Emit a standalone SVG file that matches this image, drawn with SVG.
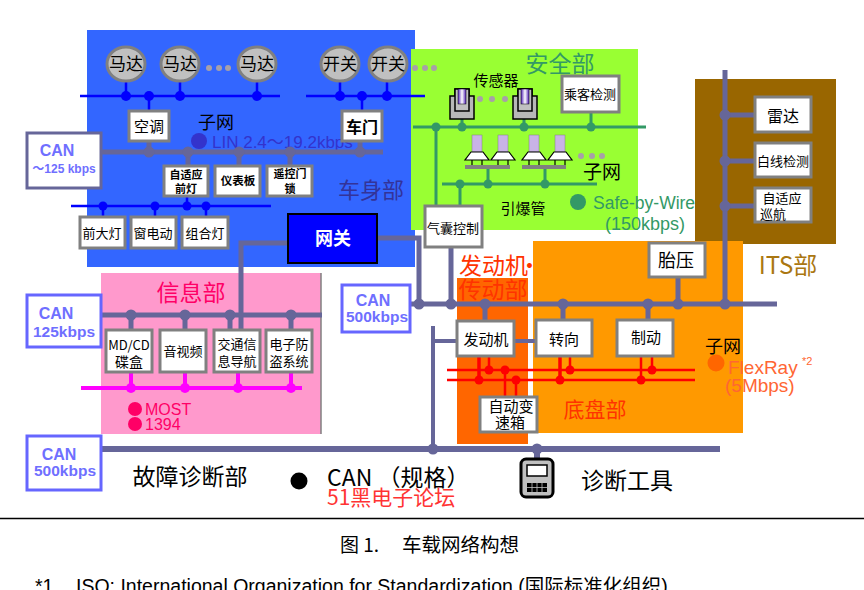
<svg xmlns="http://www.w3.org/2000/svg" width="864" height="590" viewBox="0 0 864 590">
<style>
text{font-family:"Noto Sans CJK SC","Liberation Sans",sans-serif;fill:#000}
.m{text-anchor:middle}
.lat{font-family:"Liberation Sans","Noto Sans CJK SC",sans-serif}
.box{fill:#fff;stroke:#808080;stroke-width:3}
.oval{fill:#c0c0c0;stroke:#808080;stroke-width:3}
.can{fill:#fff;stroke:#6666ff;stroke-width:3}
.cant{font-family:"Liberation Sans","Noto Sans CJK SC",sans-serif;font-weight:bold;fill:#6f6fff;text-anchor:middle}
.bus{stroke:#666699;stroke-width:5;fill:none}
.bl{stroke:#0000ff;stroke-width:2.5;fill:none}
.gr{stroke:#339966;stroke-width:3;fill:none}
.rd{stroke:#ff0000;stroke-width:2.5;fill:none}
.mg{stroke:#ff00ff;stroke-width:4;fill:none}
.d3{fill:#a8a0a8}
.dbus{fill:#666699}.dbl{fill:#0000ff}.dgr{fill:#339966}.drd{fill:#ff0000}.dmg{fill:#ff00ff}
</style>
<defs>
<linearGradient id="pur" x1="0" x2="1" y1="0" y2="0"><stop offset="0" stop-color="#5522bb"/><stop offset=".5" stop-color="#ffffff"/><stop offset="1" stop-color="#5522bb"/></linearGradient>
<g id="sensor"><path d="M-12 0V-8H-7V-15H7V-8H12V15H-12Z" fill="#b8b8b8" stroke="#000" stroke-width="1.500" transform="translate(0,8)"/><rect x="-7" y="-7" width="14" height="22" fill="#c0c0c0" stroke="#000" stroke-width="1.500"/><rect x="-4" y="-7" width="8" height="15" fill="url(#pur)" stroke="#000" stroke-width=".5"/></g>
<g id="squib"><rect x="-5" y="0" width="10" height="17" fill="#c9b3e6" stroke="#808080" stroke-width=".5"/><path d="M-6 17H6L12 25H-12Z" fill="#fff" stroke="#000" stroke-width="1.200"/><path d="M-5 25V30M5 25V30" stroke="#000" stroke-width="1.200"/></g>
</defs>
<rect width="864" height="590" fill="#fff"/>
<g id="regions">
<rect x="87" y="30" width="328" height="237" fill="#3366ff"/>
<rect x="411" y="49" width="227" height="181" fill="#99ff33"/>
<rect x="695" y="79" width="141" height="165" fill="#996600"/>
<rect x="533" y="241" width="210" height="192" fill="#ff9900"/>
<rect x="457" y="278" width="71" height="166" fill="#ff6600"/>
<rect x="101" y="273" width="220" height="161" fill="#ff99cc"/>
<path d="M321 273V434" stroke="#808080" stroke-width="1.500"/>
</g>
<g id="region-labels">
<circle cx="199" cy="141" r="8" fill="#3333cc"/>
<text class="lat" x="212" y="148" font-size="17" style="fill:#3333cc">LIN 2.4～19.2kbps</text>
<text x="216" y="129" class="m" font-size="18">子网</text>
<text x="371" y="198" class="m" font-size="22" style="fill:#333399">车身部</text>
<text x="560" y="72" class="m" font-size="23" style="fill:#339966">安全部</text>
<text x="496" y="86" class="m" font-size="15">传感器</text>
<text x="602" y="179" class="m" font-size="19">子网</text>
<text x="523" y="214" class="m" font-size="15">引爆管</text>
<circle cx="578" cy="202" r="8" fill="#339966"/>
<text class="lat" x="593" y="209" font-size="17.500" style="fill:#339966">Safe-by-Wire</text>
<text class="lat" x="605" y="230" font-size="18" style="fill:#339966">(150kbps)</text>
<text x="459" y="274" font-size="23" style="fill:#ff3300">发动机<tspan dx="-10">·</tspan></text>
<text x="493" y="298" class="m" font-size="23" style="fill:#ff3300">传动部</text>
<text x="595" y="417" class="m" font-size="21" style="fill:#ff3300">底盘部</text>
<text x="723" y="353" class="m" font-size="18">子网</text>
<circle cx="716" cy="363" r="8.500" fill="#ff6600"/>
<text class="lat" x="728" y="374" font-size="19" style="fill:#ff6633">FlexRay</text>
<text class="lat" x="802" y="365" font-size="11" style="fill:#ff6633">*2</text>
<text class="lat" x="725" y="392" font-size="19" style="fill:#ff6633">(5Mbps)</text>
<text x="788" y="274" class="m" font-size="24" style="fill:#aa7711">ITS部</text>
<text x="191" y="301" class="m" font-size="23" style="fill:#ff0066">信息部</text>
<circle cx="135" cy="409" r="7" fill="#ff0066"/>
<circle cx="135" cy="424" r="7" fill="#ff0066"/>
<text class="lat" x="145" y="415" font-size="16" style="fill:#ff0066">MOST</text>
<text class="lat" x="145" y="430" font-size="16" style="fill:#ff0066">1394</text>
<text x="190" y="485" class="m" font-size="23">故障诊断部</text>
<circle cx="299" cy="481" r="8.500" fill="#000"/>
<text x="327" y="486" font-size="23">CAN （规格）</text>
<text x="327" y="505" font-size="21" style="fill:#ff3333">51黑电子论坛</text>
<text x="627" y="489" class="m" font-size="23">诊断工具</text>
</g>
<g id="connectors">
<path class="bl" d="M80 96H280M306 96H425M71 206H271M126 80V96M149 96V111M180 80V96M257 80V96M340 80V96M362 96V111M387 80V96M103 206V217M155 206V217M187 196V206M206 206V217"/>
<path class="bus" d="M101 152H383M149 141V152M188 152V166M239 152V166M290 152V166M360 141V152"/>
<path class="bus" d="M288 243H241V330M377 238H419V304"/>
<path class="bus" d="M101 315H322M131 315V330M185 315V330M230 315V330M291 315V330"/>
<path class="bus" style="stroke-width:6" d="M101 449H720M537 449V459"/>
<path class="bus" d="M410 304H777M451 247V304M485 304V321M563 304V320M648 304V320M678 277V304M725 70V304M725 115H755M725 161H755M725 206H755"/>
<path class="bus" style="stroke-width:4" d="M433 326V449M433 341H457M514 341H536"/>
<path class="gr" d="M413 127H646M442 184H597M436 127V206M462 111V127M524 111V127M591 112V127M460 184V206M488 169V184M545 169V184"/>
<path class="rd" d="M447 370H695M447 380H695M505 370V397M516 380V397M489 356V370M570 356V370M652 356V370"/>
<path class="rd" style="stroke-width:3.500" d="M479 356V380M560 356V380"/>
<path class="rd" d="M641 356V380"/>
<path class="mg" d="M81 388H302M131 372V388M185 372V388M238 372V388M291 372V388"/>
<g class="dbl"><circle cx="126" cy="96" r="5"/><circle cx="149" cy="96" r="5"/><circle cx="180" cy="96" r="5"/><circle cx="257" cy="96" r="5"/><circle cx="340" cy="96" r="5"/><circle cx="362" cy="96" r="5"/><circle cx="387" cy="96" r="5"/><circle cx="103" cy="206" r="4.500"/><circle cx="155" cy="206" r="4.500"/><circle cx="187" cy="206" r="4.500"/><circle cx="206" cy="206" r="4.500"/></g>
<g class="dbus"><circle cx="149" cy="152" r="5.500"/><circle cx="188" cy="152" r="5.500"/><circle cx="239" cy="152" r="5.500"/><circle cx="290" cy="152" r="5.500"/><circle cx="360" cy="152" r="5.500"/><circle cx="131" cy="315" r="5.500"/><circle cx="185" cy="315" r="5.500"/><circle cx="230" cy="315" r="5.500"/><circle cx="291" cy="315" r="5.500"/><circle cx="419" cy="304" r="5.500"/><circle cx="451" cy="304" r="5.500"/><circle cx="485" cy="304" r="5.500"/><circle cx="563" cy="304" r="5.500"/><circle cx="648" cy="304" r="5.500"/><circle cx="678" cy="304" r="5.500"/><circle cx="725" cy="304" r="5.500"/><circle cx="725" cy="115" r="5.500"/><circle cx="725" cy="161" r="5.500"/><circle cx="725" cy="206" r="5.500"/><circle cx="433" cy="449" r="5.500"/><circle cx="537" cy="449" r="5.500"/></g>
<g class="dgr"><circle cx="436" cy="127" r="4.500"/><circle cx="462" cy="127" r="4.500"/><circle cx="524" cy="127" r="4.500"/><circle cx="591" cy="127" r="4.500"/><circle cx="460" cy="184" r="4.500"/><circle cx="488" cy="184" r="4.500"/><circle cx="545" cy="184" r="4.500"/></g>
<g class="drd"><circle cx="489" cy="370" r="4.500"/><circle cx="505" cy="370" r="4.500"/><circle cx="570" cy="370" r="4.500"/><circle cx="652" cy="370" r="4.500"/><circle cx="479" cy="380" r="4.500"/><circle cx="516" cy="380" r="4.500"/><circle cx="560" cy="380" r="4.500"/><circle cx="641" cy="380" r="4.500"/></g>
<g class="dmg"><circle cx="131" cy="388" r="5"/><circle cx="185" cy="388" r="5"/><circle cx="238" cy="388" r="5"/><circle cx="291" cy="388" r="5"/></g>
</g>
<g id="motor-1"><ellipse class="oval" cx="126" cy="64" rx="19" ry="17"/><text x="126" y="70" class="m" font-size="17">马达</text></g>
<g id="motor-2"><ellipse class="oval" cx="180" cy="64" rx="19" ry="17"/><text x="180" y="70" class="m" font-size="17">马达</text></g>
<g id="motor-3"><ellipse class="oval" cx="257" cy="64" rx="19" ry="17"/><text x="257" y="70" class="m" font-size="17">马达</text></g>
<g id="motor-dots" class="d3"><circle cx="209" cy="68" r="3"/><circle cx="219" cy="68" r="3"/><circle cx="228" cy="68" r="3"/></g>
<g id="switch-1"><ellipse class="oval" cx="340" cy="64" rx="19" ry="17"/><text x="340" y="70" class="m" font-size="17">开关</text></g>
<g id="switch-2"><ellipse class="oval" cx="388" cy="64" rx="19" ry="17"/><text x="388" y="70" class="m" font-size="17">开关</text></g>
<g id="switch-dots" class="d3"><circle cx="415" cy="68" r="3"/><circle cx="425" cy="68" r="3"/><circle cx="434" cy="68" r="3"/></g>
<g id="aircon"><rect class="box" x="129" y="111" width="40" height="30"/><text x="149" y="132" class="m" font-size="15">空调</text></g>
<g id="door"><rect class="box" x="342" y="111" width="40" height="30"/><text x="362" y="133" class="m" font-size="16" font-weight="bold">车门</text></g>
<g id="can-body"><rect class="can" style="stroke:#666699" x="27" y="133" width="74" height="55"/><text class="cant" x="57" y="156" font-size="16">CAN</text><text class="cant" x="64" y="173" font-size="12">～125 kbps</text></g>
<g id="headlamp-adaptive"><rect class="box" x="164" y="166" width="44" height="30"/><text x="186" y="179" class="m" font-size="11" font-weight="bold">自适应</text><text x="186" y="193" class="m" font-size="11" font-weight="bold">前灯</text></g>
<g id="dashboard"><rect class="box" x="215" y="166" width="45" height="30"/><text x="238" y="185" class="m" font-size="11.500" font-weight="bold">仪表板</text></g>
<g id="remote-lock"><rect class="box" x="267" y="166" width="45" height="30"/><text x="290" y="178" class="m" font-size="11" font-weight="bold">遥控门</text><text x="290" y="193" class="m" font-size="11" font-weight="bold">锁</text></g>
<g id="headlight"><rect class="box" x="80" y="217" width="45" height="31"/><text x="102" y="238" class="m" font-size="13">前大灯</text></g>
<g id="window"><rect class="box" x="131" y="217" width="45" height="31"/><text x="153" y="238" class="m" font-size="13">窗电动</text></g>
<g id="combo-light"><rect class="box" x="182" y="217" width="46" height="31"/><text x="205" y="238" class="m" font-size="13">组合灯</text></g>
<g id="gateway"><rect x="288" y="214" width="89" height="49" fill="#0000ff" stroke="#000" stroke-width="2"/><text x="333" y="245" class="m" font-size="18" font-weight="bold" style="fill:#fff">网关</text></g>
<g id="can-125"><rect class="can" x="27" y="295" width="74" height="52"/><text class="cant" x="56" y="319" font-size="16">CAN</text><text class="cant" x="64" y="337" font-size="15.500">125kbps</text></g>
<g id="mdcd"><rect class="box" x="106" y="330" width="46" height="42"/><text x="129" y="350" class="m" font-size="13">MD/CD</text><text x="129" y="367" class="m" font-size="14">碟盒</text></g>
<g id="av"><rect class="box" x="160" y="330" width="46" height="42"/><text x="183" y="356" class="m" font-size="13">音视频</text></g>
<g id="nav"><rect class="box" x="214" y="330" width="46" height="42"/><text x="237" y="349" class="m" font-size="13">交通信</text><text x="237" y="366" class="m" font-size="13">息导航</text></g>
<g id="antitheft"><rect class="box" x="266" y="330" width="46" height="42"/><text x="289" y="349" class="m" font-size="13">电子防</text><text x="289" y="366" class="m" font-size="13">盗系统</text></g>
<g id="can-500-a"><rect class="can" x="27" y="436" width="74" height="54"/><text class="cant" x="59" y="460" font-size="16">CAN</text><text class="cant" x="65" y="476" font-size="15.500">500kbps</text></g>
<g id="can-500-b"><rect class="can" x="342" y="285" width="68" height="47"/><text class="cant" x="373" y="306" font-size="16">CAN</text><text class="cant" x="377" y="322" font-size="15.500">500kbps</text></g>
<g id="sensor-1"><use href="#sensor" x="462" y="96"/></g>
<g id="sensor-2"><use href="#sensor" x="525" y="96"/></g>
<g id="sensor-dots" class="d3"><circle cx="480" cy="99" r="3"/><circle cx="492" cy="99" r="3"/><circle cx="505" cy="99" r="3"/></g>
<g id="passenger"><rect class="box" x="562" y="76" width="57" height="36"/><text x="590" y="99" class="m" font-size="13">乘客检测</text></g>
<g id="squibs"><use href="#squib" x="477" y="135"/><use href="#squib" x="503" y="135"/><use href="#squib" x="534" y="135"/><use href="#squib" x="560" y="135"/><rect x="465" y="165" width="45" height="4" fill="#808080"/><rect x="522" y="165" width="44" height="4" fill="#808080"/></g>
<g id="squib-dots" class="d3"><circle cx="581" cy="156" r="3"/><circle cx="592" cy="156" r="3"/><circle cx="602" cy="156" r="3"/></g>
<g id="airbag"><rect class="box" x="425" y="206" width="57" height="41"/><text x="453" y="233" class="m" font-size="13">气囊控制</text></g>
<g id="radar"><rect class="box" x="755" y="97" width="56" height="35"/><text x="783" y="122" class="m" font-size="16">雷达</text></g>
<g id="lane"><rect class="box" x="755" y="143" width="56" height="34"/><text x="783" y="166" class="m" font-size="13">白线检测</text></g>
<g id="acc"><rect class="box" x="755" y="188" width="56" height="34"/><text x="782" y="203" class="m" font-size="13">自适应</text><text x="773" y="219" class="m" font-size="13">巡航</text></g>
<g id="tpms"><rect class="box" x="649" y="243" width="56" height="34"/><text x="676" y="267" class="m" font-size="18">胎压</text></g>
<g id="engine"><rect class="box" x="457" y="321" width="57" height="35"/><text x="486" y="345" class="m" font-size="15">发动机</text></g>
<g id="steering"><rect class="box" x="536" y="320" width="56" height="36"/><text x="564" y="345" class="m" font-size="15">转向</text></g>
<g id="brake"><rect class="box" x="617" y="320" width="56" height="36"/><text x="646" y="343" class="m" font-size="15">制动</text></g>
<g id="transmission"><rect class="box" x="480" y="397" width="57" height="35"/><text x="511" y="412" class="m" font-size="15">自动变</text><text x="510" y="428" class="m" font-size="15">速箱</text></g>
<g id="diag-tool"><rect x="521" y="459" width="32" height="38" rx="5" fill="#c0c0c0" stroke="#000" stroke-width="3"/><rect x="527" y="465" width="20" height="11" fill="#fff" stroke="#000" stroke-width="1.500"/><rect x="527" y="483" width="20" height="9" fill="#000"/><path d="M527 487.500H547M532 483V492M537 483V492M542 483V492" stroke="#c0c0c0" stroke-width=".8"/></g>
<g id="caption">
<path d="M0 518.500H864" stroke="#000" stroke-width="1.500"/>
<text x="340" y="552" font-size="19">图 1.</text>
<text x="402" y="552" font-size="19.500">车载网络构想</text>
<text class="lat" x="35" y="593" font-size="19.500">*1</text>
<text class="lat" x="76" y="593" font-size="19.500">ISO: International Organization for Standardization (国际标准化组织)</text>
</g>
</svg>
